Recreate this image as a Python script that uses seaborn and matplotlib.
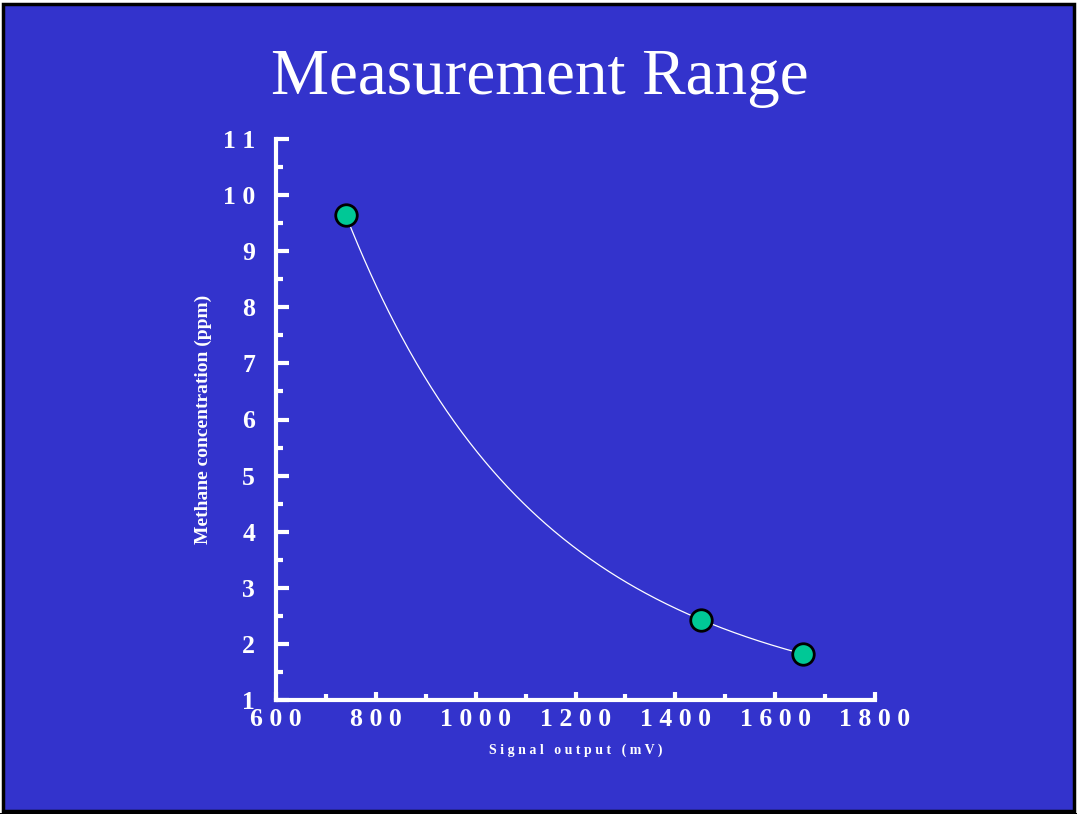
import numpy as np
import pandas as pd
import matplotlib
matplotlib.use("Agg")
import matplotlib.pyplot as plt
import seaborn as sns
from matplotlib.patches import Rectangle

# Data
signal_mv = [740, 1452, 1656]
methane_ppm = [9.64, 2.43, 1.82]
x_ticks = [600, 800, 1000, 1200, 1400, 1600, 1800]
y_ticks = [1, 2, 3, 4, 5, 6, 7, 8, 9, 10, 11]

BLUE = "#3333CC"
GREEN = "#00C896"

sns.set_theme(style="ticks")
plt.rcParams['font.family'] = ['Liberation Serif', 'DejaVu Serif']

W, H = 1077, 814
fig = plt.figure(figsize=(W / 100, H / 100), dpi=100, facecolor="white")
fig.patches.append(Rectangle((3 / W, 1 - 811 / H), 1071 / W, 807 / H,
                             transform=fig.transFigure, facecolor=BLUE,
                             edgecolor="black", linewidth=2.5, zorder=-10))
fig.patches.append(Rectangle((0, 0), 1, 1.5 / H, transform=fig.transFigure,
                             facecolor="black", edgecolor="none", zorder=-10))

ax = fig.add_axes([276 / W, 1 - 700 / H, (875 - 276) / W, (700 - 139) / H])
ax.set_facecolor("none")
ax.set_zorder(5)

# smooth fitted curve (exact fit of log(y) quadratic through the points)
coef = np.polyfit(signal_mv, np.log(methane_ppm), 2)
xs = np.linspace(min(signal_mv), max(signal_mv), 300)
curve = pd.DataFrame({"x": xs, "y": np.exp(np.polyval(coef, xs))})
sns.lineplot(data=curve, x="x", y="y", ax=ax, color="white", linewidth=0.9,
             zorder=2)

pts = pd.DataFrame({"x": signal_mv, "y": methane_ppm})
sns.scatterplot(data=pts, x="x", y="y", ax=ax, s=240, color=GREEN,
                edgecolor="black", linewidth=2, zorder=3, clip_on=False)

ax.set_xlim(600, 1800)
ax.set_ylim(1, 11)
ax.set_xticks(x_ticks)
ax.set_yticks(y_ticks)
ax.set_xticks(np.arange(700, 1800, 200), minor=True)
ax.set_yticks(np.arange(1.5, 11, 1.0), minor=True)

def spaced(v):
    return " ".join(str(v))

ax.set_xticklabels([spaced(v) for v in x_ticks])
ax.set_yticklabels([spaced(v) for v in y_ticks])

for s in ["top", "right"]:
    ax.spines[s].set_visible(False)
for s in ["left", "bottom"]:
    ax.spines[s].set_color("white")
    ax.spines[s].set_linewidth(3)

ax.tick_params(axis="y", which="major", direction="in", length=9, width=3,
               color="white", labelcolor="white", labelsize=18.5, pad=15)
ax.tick_params(axis="y", which="minor", direction="in", length=5, width=3,
               color="white")
ax.tick_params(axis="x", which="major", direction="in", length=6, width=3,
               color="white", labelcolor="white", labelsize=18.5, pad=6)
ax.tick_params(axis="x", which="minor", direction="in", length=4, width=3,
               color="white")
for lab in ax.get_xticklabels() + ax.get_yticklabels():
    lab.set_fontweight("bold")

ax.set_xlabel("S i g n a l   o u t p u t   ( m V )", color="white",
              fontsize=10, fontweight="bold", labelpad=9)
ax.set_ylabel("Methane concentration (ppm)", color="white", fontsize=14,
              fontweight="bold", labelpad=8)

fig.text(540 / W, 1 - 78 / H, "Measurement Range", color="white",
         fontsize=47, ha="center", va="center")

fig.savefig("out.png", dpi=100, facecolor=fig.get_facecolor())
